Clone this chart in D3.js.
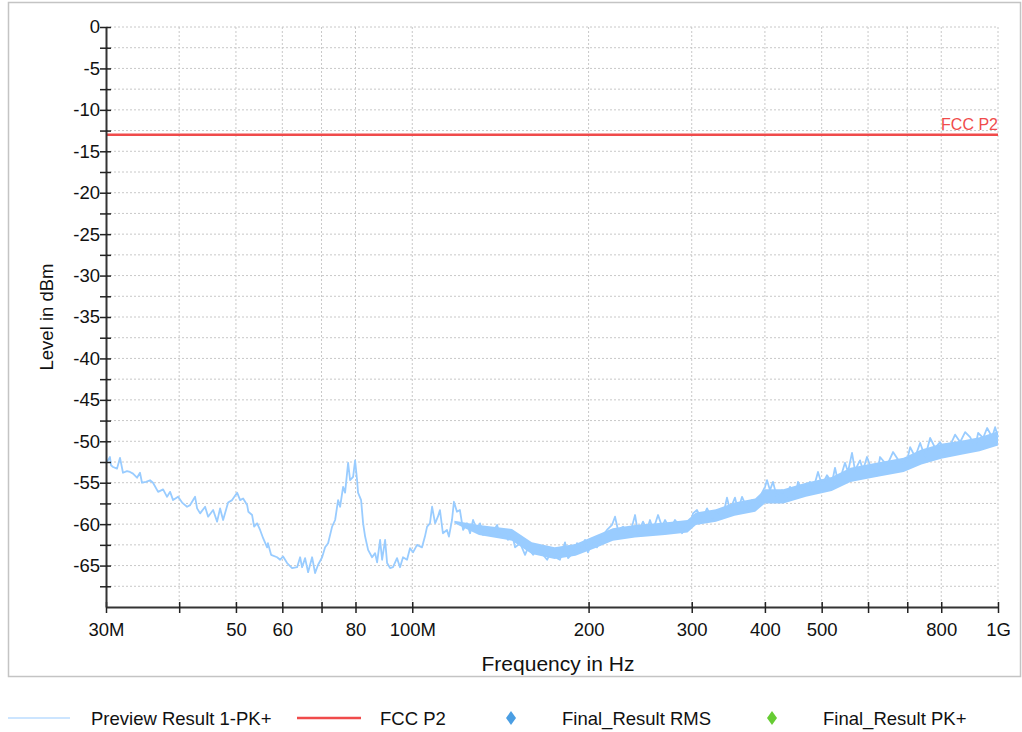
<!DOCTYPE html>
<html>
<head>
<meta charset="utf-8">
<script src="https://cdn.jsdelivr.net/npm/d3@7"></script>
<style>
  html, body { margin: 0; padding: 0; background: #ffffff; }
  svg { display: block; font-family: "Liberation Sans", Arial, sans-serif; }
</style>
</head>
<body>
<svg id="chart" width="1022" height="732"></svg>
<script>
// ---- data ----
// Preview Result 1-PK+ : sweep points (MHz, dBm)
const freqMHz = [
  30.0, 30.47, 30.6, 30.84, 31.33, 31.70, 32.07, 32.58, 32.97, 33.36, 33.89, 34.29, 34.56, 35.11, 35.67, 36.09,
  36.82, 37.55, 38.14, 38.60, 39.05, 39.83, 40.46, 41.26, 41.76, 42.58, 42.92, 43.43, 44.29, 44.82, 45.71, 46.43,
  46.98, 47.54, 48.48, 49.25, 50.23, 50.83, 51.43, 52.25, 52.5, 53.28, 53.70, 54.34, 54.98, 55.64, 56.52, 56.7,
  57.41, 58.78, 59.48, 60.18, 61.14, 62.35, 63.59, 64.35, 64.85, 65.62, 66.40, 67.45, 68.25, 69.06, 70.16, 70.99,
  71.83, 72.97, 73.84, 74.71, 75.30, 76.19, 76.79, 77.71, 78.32, 79.25, 79.87, 80.50, 80.8, 81.78, 82.43, 83.08,
  84.06, 85.39, 86.41, 87.09, 88.12, 88.82, 89.87, 90.58, 91.65, 92.71, 94.18, 95.30, 96.43, 97.96, 99.12, 100.3,
  101.9, 103.9, 105.1, 106.0, 107.2, 108.1, 109.4, 110.6, 111.5, 112.8, 114.6, 115.5, 116.9, 117.8, 119.2, 120.6,
  122.1, 124.0, 125.5, 127.0, 129.0, 130.5, 132.1, 134.2, 135.8, 137.4, 139.6, 141.2, 144.0, 145.7, 148.0, 149.8,
  152.8, 155.8, 157.7, 160.8, 164.0, 167.2, 169.9, 173.3, 176.7, 178.7, 182.3, 184.5, 188.1, 191.1, 193.4, 197.2,
  199.5, 203.5, 206.7, 210.8, 215.0, 219.3, 221.9, 224.5, 229.0, 233.5, 237.2, 240.1, 242.9, 247.7, 251.6, 254.6,
  257.7, 262.8, 266.9, 270.1, 275.5, 280.9, 286.5, 288.8, 294.5, 298.0, 301.5, 306.3, 312.4, 318.6, 324.9, 331.4,
  337.9, 341.9, 344.6, 348.7, 355.6, 359.9, 365.6, 372.8, 380.2, 387.8, 395.5, 400.2, 403.3, 408.1, 412.9, 419.5,
  427.8, 432.9, 441.5, 450.2, 455.6, 464.6, 477.6, 483.2, 492.8, 500.7, 510.6, 520.7, 526.9, 533.2, 541.6, 548.0,
  554.5, 563.3, 570.0, 581.3, 588.2, 597.5, 604.6, 621.5, 628.9, 646.4, 661.9, 680.5, 699.6, 707.9, 722.0, 736.3,
  750.9, 765.8, 781.0, 796.5, 812.3, 828.5, 844.9, 861.7, 878.8, 896.2, 914.0, 924.9, 943.2, 958.2, 977.2, 988.8,
  1000
];
const levelDbm = [
  -52.7, -51.9, -52.9, -53.1, -53.3, -52.0, -53.8, -53.6, -53.7, -53.9, -54.4, -53.8, -55.0, -54.9, -54.7, -55.0,
  -56.1, -55.8, -56.7, -56.1, -57.1, -56.7, -57.4, -57.9, -57.7, -56.7, -58.1, -58.7, -57.9, -59.1, -58.3, -59.7,
  -58.1, -59.5, -57.4, -57.1, -56.2, -57.1, -56.9, -57.7, -58.5, -58.9, -60.3, -59.9, -60.7, -61.7, -62.8, -62.3,
  -63.7, -64.0, -64.3, -63.9, -64.7, -65.3, -65.2, -64.0, -65.2, -64.1, -65.8, -64.0, -65.9, -64.9, -64.0, -62.8,
  -62.3, -60.3, -59.5, -57.1, -57.9, -55.5, -56.2, -52.6, -54.7, -54.3, -52.3, -54.7, -56.2, -57.1, -59.9, -61.5,
  -63.1, -64.0, -63.5, -64.6, -61.9, -64.3, -61.9, -64.7, -65.3, -65.2, -64.1, -65.2, -64.0, -64.3, -62.9, -63.4,
  -62.5, -62.8, -61.5, -60.3, -59.9, -57.9, -59.9, -59.1, -58.3, -61.1, -60.7, -61.5, -59.5, -57.3, -58.5, -58.3,
  -60.7, -59.9, -61.1, -59.5, -60.7, -59.9, -61.3, -60.5, -61.1, -60.9, -60.1, -61.5, -61.1, -61.9, -61.1, -62.8,
  -62.3, -63.7, -62.8, -63.7, -62.8, -63.7, -64.3, -63.1, -64.1, -64.3, -62.2, -64.1, -63.5, -62.3, -63.1, -61.9,
  -63.4, -61.9, -62.8, -61.5, -60.7, -60.1, -59.1, -60.7, -60.3, -61.1, -60.3, -58.9, -61.1, -59.7, -60.7, -59.5,
  -60.7, -58.9, -60.3, -59.5, -60.7, -59.5, -60.3, -61.1, -59.9, -60.3, -58.7, -58.3, -59.5, -58.1, -59.3, -58.3,
  -59.3, -57.9, -56.8, -58.3, -56.8, -58.3, -56.7, -58.1, -57.1, -57.5, -56.2, -55.5, -54.7, -55.9, -54.9, -56.8,
  -55.9, -57.1, -55.5, -56.7, -54.9, -56.1, -54.9, -55.9, -53.7, -55.3, -54.1, -55.0, -53.2, -54.9, -53.8, -52.6,
  -53.7, -51.4, -53.5, -52.3, -53.5, -51.9, -52.9, -54.1, -51.9, -52.9, -51.3, -52.6, -52.3, -50.7, -51.9, -50.2,
  -51.9, -49.6, -50.8, -50.1, -51.4, -50.5, -49.2, -50.1, -48.9, -49.5, -50.7, -49.0, -49.6, -48.4, -49.5, -48.3,
  -49.5
];
// dense part of the sweep: body of the noise band (upper / lower edge)
const bandFreqMHz = [118, 130, 148, 160, 175, 190, 205, 220, 240, 270, 295, 305, 330, 355, 385, 400, 430, 470, 520,
  560, 620, 690, 740, 800, 870, 930, 1000];
const bandUpperDbm = [-59.6, -60.1, -60.6, -62.2, -62.8, -62.4, -61.4, -60.5, -60.1, -59.8, -59.5, -58.6, -58.2, -57.4,
  -56.9, -55.8, -55.8, -55.0, -54.3, -53.2, -52.6, -52.0, -51.0, -50.3, -49.9, -49.5, -48.8];
const bandLowerDbm = [-59.9, -61.3, -62.0, -63.6, -64.2, -63.8, -62.9, -62.0, -61.6, -61.3, -61.0, -60.1, -59.7, -59.0,
  -58.5, -57.5, -57.5, -56.7, -56.0, -54.9, -54.3, -53.7, -52.8, -52.1, -51.6, -51.2, -50.5];

const limitName = "FCC P2";
const limitFreq = [30, 1000];
const limitDbm = [-13, -13];
const xTicks = [30, 40, 50, 60, 70, 80, 100, 200, 300, 400, 500, 600, 700, 800, 1000];
const xTickLabels = {30: "30M", 50: "50", 60: "60", 80: "80", 100: "100M", 200: "200", 300: "300", 400: "400", 500: "500", 800: "800", 1000: "1G"};
const yTicks = [0, -5, -10, -15, -20, -25, -30, -35, -40, -45, -50, -55, -60, -65];
const yMinor = [-2.5, -7.5, -12.5, -17.5, -22.5, -27.5, -32.5, -37.5, -42.5, -47.5, -52.5, -57.5, -62.5, -67.5];
const legendItems = [
  {name: "Preview Result 1-PK+", type: "line", color: "#99ccff"},
  {name: "FCC P2", type: "line", color: "#f04b4b"},
  {name: "Final_Result RMS", type: "diamond", color: "#4a9ee3"},
  {name: "Final_Result PK+", type: "diamond", color: "#66cc33"}
];

// ---- layout ----
const svg = d3.select("#chart");
const x = d3.scaleLog().domain([30, 1000]).range([106, 998]);
const y = d3.scaleLinear().domain([-70, 0]).range([607, 27]);
const traceColor = "#99ccff";

// outer frame
svg.append("rect").attr("x", 8.5).attr("y", 2.5).attr("width", 1012).attr("height", 674)
  .attr("fill", "none").attr("stroke", "#c4c4c4").attr("stroke-width", 1.5);

// grid
const grid = svg.append("g").attr("stroke", "#c8c8c8").attr("stroke-width", 1).attr("stroke-dasharray", "2,2");
xTicks.filter(d => d > 30).forEach(d => {
  grid.append("line").attr("x1", x(d)).attr("x2", x(d)).attr("y1", y(0)).attr("y2", y(-70));
});
yTicks.concat(yMinor).forEach(d => {
  grid.append("line").attr("x1", x(30)).attr("x2", x(1000)).attr("y1", y(d)).attr("y2", y(d));
});

// limit line
svg.append("path")
  .datum(limitFreq.map((f, i) => [f, limitDbm[i]]))
  .attr("d", d3.line().x(d => x(d[0])).y(d => y(d[1])))
  .attr("fill", "none").attr("stroke", "#f04b4b").attr("stroke-width", 2.5);
svg.append("text").attr("x", x(1000)).attr("y", y(-13) - 5)
  .attr("text-anchor", "end").attr("fill", "#f04b4b").attr("font-size", 16).text(limitName);

// trace: dense band body + sweep line
svg.append("path")
  .datum(bandFreqMHz.map((f, i) => [f, bandUpperDbm[i], bandLowerDbm[i]]))
  .attr("d", d3.area().x(d => x(d[0])).y0(d => y(d[2])).y1(d => y(d[1])))
  .attr("fill", traceColor).attr("stroke", "none");
svg.append("path")
  .datum(freqMHz.map((f, i) => [f, levelDbm[i]]))
  .attr("d", d3.line().x(d => x(d[0])).y(d => y(d[1])))
  .attr("fill", "none").attr("stroke", traceColor).attr("stroke-width", 1.8).attr("stroke-linejoin", "round");

// axes
const xAxis = d3.axisBottom(x).tickValues(xTicks).tickSize(0).tickFormat(d => xTickLabels[d] || "");
const gx = svg.append("g").attr("transform", `translate(0,${y(-70)})`).call(xAxis);
gx.select(".domain").attr("stroke", "#333").attr("stroke-width", 2);
gx.selectAll(".tick line").remove();
gx.selectAll(".tick").append("line").attr("y1", -5).attr("y2", 6).attr("stroke", "#222").attr("stroke-width", 1.5);
gx.selectAll(".tick text").attr("y", 23).attr("dy", "0.32em").attr("font-size", 18.5).attr("fill", "#111")
  .attr("font-family", "Liberation Sans, Arial, sans-serif");

const yAxis = d3.axisLeft(y).tickValues(yTicks.concat(yMinor)).tickSize(0)
  .tickFormat(d => Number.isInteger(d) ? d3.format("d")(d) : "");
const gy = svg.append("g").attr("transform", `translate(${x(30)},0)`).call(yAxis);
gy.select(".domain").attr("stroke", "#333").attr("stroke-width", 2);
gy.selectAll(".tick line").remove();
gy.selectAll(".tick").append("line").attr("x1", -6).attr("x2", 5).attr("stroke", "#222").attr("stroke-width", 1.5);
gy.selectAll(".tick text").attr("x", -6).attr("font-size", 18.5).attr("fill", "#111")
  .attr("font-family", "Liberation Sans, Arial, sans-serif")
  .text(d => Number.isInteger(d) ? String(d) : "");

// axis titles
svg.append("text").attr("x", (x(30) + x(1000)) / 2 + 6).attr("y", 671).attr("text-anchor", "middle")
  .attr("font-size", 21).attr("fill", "#111").text("Frequency in Hz");
svg.append("text").attr("transform", `translate(53,${(y(0) + y(-70)) / 2}) rotate(-90)`)
  .attr("text-anchor", "middle").attr("font-size", 18.5).attr("fill", "#111").text("Level in dBm");

// legend
const legX = [[8, 70, 91], [297, 361, 380], [511, null, 562], [772, null, 823]];
const lg = svg.append("g");
legendItems.forEach((it, i) => {
  const [a, b, t] = legX[i];
  if (it.type === "line") {
    lg.append("line").attr("x1", a).attr("x2", b).attr("y1", 718).attr("y2", 718)
      .attr("stroke", it.color).attr("stroke-width", it.name === "FCC P2" ? 2.5 : 1.2);
  } else {
    lg.append("path").attr("d", `M${a},${711} L${a + 5},${718} L${a},${725} L${a - 5},${718} Z`).attr("fill", it.color);
  }
  lg.append("text").attr("x", t).attr("y", 724.5).attr("font-size", 18.5).attr("fill", "#111").text(it.name);
});
</script>
</body>
</html>
